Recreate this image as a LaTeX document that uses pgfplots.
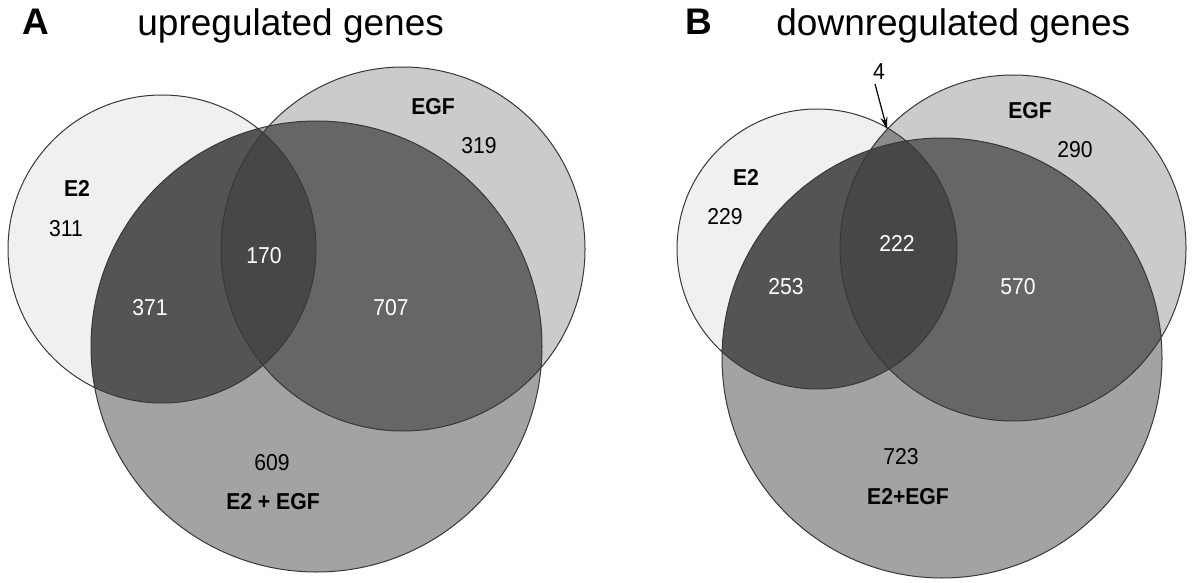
\documentclass[border=0pt]{standalone}
\usepackage{fontspec}
\setmainfont{Liberation Sans}
\newfontfamily\narrowsans[FakeStretch=0.92]{Liberation Sans}
\usepackage{pgfplots}
\pgfplotsset{compat=1.18}
\usepackage{pgfplotstable}
\usetikzlibrary{arrows.meta}

\definecolor{cA}{HTML}{F0F0F0}   % E2 only
\definecolor{cB}{HTML}{CBCBCB}   % EGF only
\definecolor{cC}{HTML}{A3A3A3}   % E2+EGF only
\definecolor{cAC}{HTML}{545454}  % E2 & E2+EGF
\definecolor{cBC}{HTML}{666666}  % EGF & E2+EGF
\definecolor{cABC}{HTML}{474747} % all three
\definecolor{cAB}{HTML}{8C8C8C}  % E2 & EGF only
\definecolor{edge}{HTML}{383838}

\pgfplotstableread{
x y label
66 229 311
479 146 319
272 463 609
725 217 229
1075 150 290
901 457 723
879 72 4
}\blacknums

\pgfplotstableread{
x y label
264 256 170
150 308 371
391 308 707
897 243 222
786 287 253
1018 287 570
}\whitenums

\pgfplotstableread{
x y label
77 188 E2
433 107 EGF
273 502 {E2 + EGF}
746 177 E2
1030 111 EGF
908 497 E2+EGF
}\setlabels

\newcommand{\venn}[9]{%
  \fill[cA] (axis cs:#1,#2) circle[radius=#3];
  \fill[cB] (axis cs:#4,#5) circle[radius=#6];
  \begin{scope}
    \clip (axis cs:#1,#2) circle[radius=#3];
    \fill[cAB] (axis cs:#4,#5) circle[radius=#6];
  \end{scope}
  \fill[cC] (axis cs:#7,#8) circle[radius=#9];
  \begin{scope}
    \clip (axis cs:#7,#8) circle[radius=#9];
    \fill[cAC] (axis cs:#1,#2) circle[radius=#3];
    \fill[cBC] (axis cs:#4,#5) circle[radius=#6];
    \clip (axis cs:#1,#2) circle[radius=#3];
    \fill[cABC] (axis cs:#4,#5) circle[radius=#6];
  \end{scope}
  \draw[edge, line width=0.5bp] (axis cs:#1,#2) circle[radius=#3]
        (axis cs:#4,#5) circle[radius=#6]
        (axis cs:#7,#8) circle[radius=#9];
}

\begin{document}
\begin{tikzpicture}
\begin{axis}[
  x=0.5bp, y=0.5bp, y dir=reverse,
  xmin=0, xmax=1200, ymin=0, ymax=583,
  hide axis, clip=false,
]
\path (axis cs:0,0) rectangle (axis cs:1200,583);

\venn{162}{249}{154}{403}{249}{182}{316.5}{346.5}{225.5}
\venn{817}{249}{140}{1013}{248}{173}{942}{358}{220}

\draw[black, line width=0.6bp, -{Stealth[length=6bp,width=3.5bp]}]
  (axis cs:875,84) -- (axis cs:887,129);

\addplot[draw=none, mark=none, point meta=explicit symbolic,
  nodes near coords,
  every node near coord/.append style={anchor=center, inner sep=0pt,
    font=\narrowsans\fontsize{11.5bp}{13bp}\selectfont, text=black}]
  table[x=x, y=y, meta=label] {\blacknums};
\addplot[draw=none, mark=none, point meta=explicit symbolic,
  nodes near coords,
  every node near coord/.append style={anchor=center, inner sep=0pt,
    font=\narrowsans\fontsize{11.5bp}{13bp}\selectfont, text=white}]
  table[x=x, y=y, meta=label] {\whitenums};
\addplot[draw=none, mark=none, point meta=explicit symbolic,
  nodes near coords,
  every node near coord/.append style={anchor=center, inner sep=0pt,
    font=\narrowsans\bfseries\fontsize{11.5bp}{13bp}\selectfont, text=black}]
  table[x=x, y=y, meta=label] {\setlabels};

\node[anchor=base west, inner sep=0pt, font=\bfseries\fontsize{18.5bp}{20bp}\selectfont]
  at (axis cs:22,35) {A};
\node[anchor=base west, inner sep=0pt, font=\fontsize{18.5bp}{20bp}\selectfont]
  at (axis cs:137,36) {upregulated genes};
\node[anchor=base west, inner sep=0pt, font=\bfseries\fontsize{18.5bp}{20bp}\selectfont]
  at (axis cs:685,35) {B};
\node[anchor=base west, inner sep=0pt, font=\fontsize{18.5bp}{20bp}\selectfont]
  at (axis cs:776,36) {downregulated genes};
\end{axis}
\end{tikzpicture}
\end{document}
